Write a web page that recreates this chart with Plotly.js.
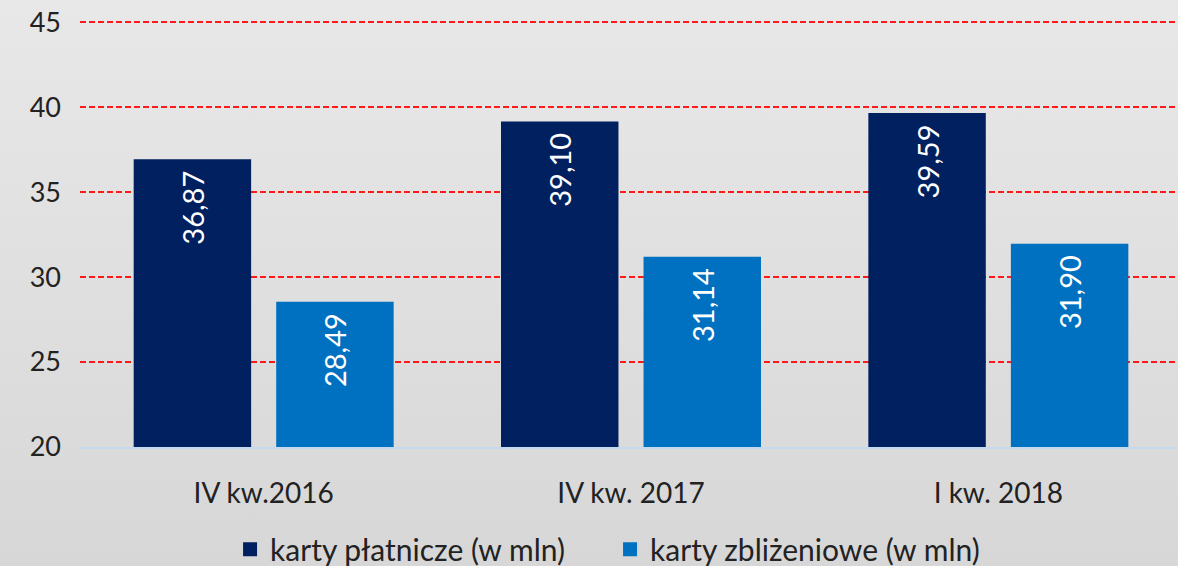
<!DOCTYPE html>
<html>
<head>
<meta charset="utf-8">
<script src="https://cdn.plot.ly/plotly-3.0.1.min.js"></script>
<style>
  html, body { margin: 0; padding: 0; width: 1178px; height: 566px; overflow: hidden;
    background: linear-gradient(to bottom, #e8e8e8 0%, #d7d7d7 100%); }
  #chart { width: 1182px; height: 566px; }
</style>
</head>
<body>
<div id="chart"></div>
<script>
const categories = ["IV kw.2016", "IV kw. 2017", "I kw. 2018"];
const seriesNames = ["karty płatnicze (w mln)", "karty zbliżeniowe (w mln)"];
const platnicze = [36.87, 39.10, 39.59];
const zblizeniowe = [28.49, 31.14, 31.90];
const yTicks = [20, 25, 30, 35, 40, 45];

const fmt = v => v.toFixed(2).replace('.', ',') + '\u00a0';
const font = "Lato, 'Open Sans', sans-serif";

function barTrace(name, values, color) {
  return {
    type: 'bar', name: name, x: categories, y: values,
    marker: { color: color, line: { color: color, width: 2 } },
    text: values.map(fmt),
    textposition: 'inside', insidetextanchor: 'end', textangle: -90,
    textfont: { color: '#ffffff', size: 29, family: font },
    hoverinfo: 'none', cliponaxis: false
  };
}

const data = [
  barTrace(seriesNames[0], platnicze, '#002060'),
  barTrace(seriesNames[1], zblizeniowe, '#0070c0')
];

const layout = {
  width: 1182, height: 566,
  margin: { l: 80, r: 0, t: 21, b: 119, autoexpand: false },
  paper_bgcolor: 'rgba(0,0,0,0)', plot_bgcolor: 'rgba(0,0,0,0)',
  barmode: 'group', bargap: 0.224, bargroupgap: 0.19,
  font: { family: font, color: '#222222', size: 27 },
  showlegend: true,
  legend: { orientation: 'h', x: 0.481, xanchor: 'center', y: -0.24, yanchor: 'middle',
            font: { size: 30, color: '#222222', family: font }, bgcolor: 'rgba(0,0,0,0)',
            traceorder: 'normal', entrywidth: 335, entrywidthmode: 'pixels' },
  xaxis: { type: 'category', showgrid: false, showline: true, linecolor: '#c5d9f1', linewidth: 2,
           ticks: '', ticklabelstandoff: 20, tickfont: { size: 28, color: '#222222' }, fixedrange: true },
  yaxis: { range: [20, 45.07], tickvals: yTicks, ticktext: yTicks.map(String), showgrid: true,
           gridcolor: '#ff1a1a', griddash: '6px,3px', gridwidth: 1.6, zeroline: false, showline: false,
           ticks: '', ticklabelstandoff: 18, tickfont: { size: 27, color: '#222222' }, fixedrange: true }
};

Plotly.newPlot('chart', data, layout, { displayModeBar: false, staticPlot: true });
</script>
</body>
</html>
